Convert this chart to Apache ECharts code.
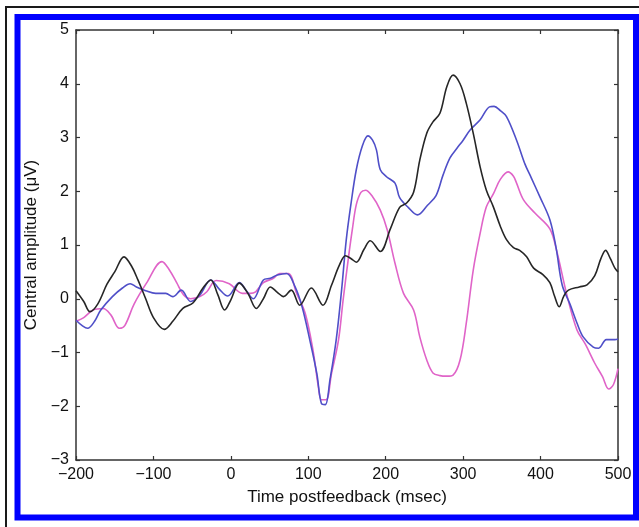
<!DOCTYPE html>
<html>
<head>
<meta charset="utf-8">
<script src="https://cdn.jsdelivr.net/npm/echarts@6/dist/echarts.min.js"></script>
<style>
html,body{margin:0;padding:0;background:#fff;}
#chart{width:639px;height:527px;}
</style>
</head>
<body>
<div id="chart"></div>
<script>
// X axis ticks (msec) and Y ticks (µV)
const xTicks = [-200, -100, 0, 100, 200, 300, 400, 500];
const yTicks = [-3, -2, -1, 0, 1, 2, 3, 4, 5];

// Black trace
const blackT = [-200,-190,-182,-172,-160,-150,-138,-128,-120,-110,-100,-86,-75,-62,-49,-36,-26,-17,-8,0,11,22,33,42,51,60,68,78,89,104,119,130,140,148,155,162,172,180,193,206,218,227,236,244,253,261,270,279,287,296,304,313,322,330,339,348,356,365,373,382,391,403,412,418,424,430,436,450,460,470,478,484,490,496,500];
const blackV = [0.15,-0.05,-0.24,-0.1,0.27,0.5,0.78,0.6,0.35,0.0,-0.35,-0.57,-0.42,-0.18,-0.08,0.2,0.35,0.08,-0.21,-0.02,0.29,0.1,-0.18,0.0,0.22,0.12,0.04,0.16,-0.12,0.2,-0.12,0.25,0.62,0.8,0.75,0.68,0.92,1.08,0.88,1.3,1.7,1.78,1.98,2.58,3.08,3.29,3.45,3.95,4.16,4.0,3.64,3.08,2.45,2.02,1.71,1.35,1.1,0.95,0.9,0.78,0.57,0.45,0.3,0.05,-0.15,0.05,0.16,0.22,0.26,0.43,0.75,0.9,0.75,0.57,0.5];

// Blue trace
const blueT = [-200,-192,-185,-176,-168,-153,-140,-130,-122,-110,-97,-84,-75,-64,-52,-40,-26,-15,-4,11,20,29,42,51,60,72,83,92,102,111,117,122,128,136,143,149,155,162,170,177,183,188,193,201,212,218,229,241,254,265,274,283,292,300,309,322,334,340,348,356,369,380,388,399,412,420,428,438,447,455,468,475,485,496,500];
const blueV = [-0.4,-0.5,-0.55,-0.42,-0.21,0.04,0.2,0.28,0.22,0.15,0.1,0.1,0.04,0.16,-0.05,0.07,0.35,0.18,0.05,0.3,0.15,0.0,0.35,0.38,0.44,0.47,0.22,-0.15,-0.77,-1.39,-1.95,-1.97,-1.51,-0.77,0.16,1.09,1.75,2.4,2.85,3.03,2.95,2.77,2.4,2.27,2.15,1.88,1.7,1.56,1.74,1.92,2.3,2.62,2.8,2.95,3.14,3.33,3.57,3.58,3.5,3.39,2.95,2.5,2.25,1.9,1.47,0.95,0.25,-0.1,-0.45,-0.71,-0.9,-0.92,-0.76,-0.76,-0.75];

// Magenta trace
const magentaT = [-200,-190,-178,-165,-155,-144,-137,-125,-109,-89,-80,-70,-61,-52,-40,-31,-19,-2,15,25,32,42,55,63,74,85,96,106,113,117,123,130,139,145,152,157,162,168,174,182,193,202,212,223,236,244,253,261,270,279,287,296,304,313,322,330,339,348,358,365,369,378,393,412,421,434,447,458,470,480,488,494,500];
const magentaV = [-0.42,-0.35,-0.21,-0.18,-0.3,-0.55,-0.5,-0.1,0.29,0.69,0.55,0.3,0.07,0.0,0.04,0.13,0.34,0.28,0.1,0.1,0.13,0.3,0.38,0.47,0.47,0.1,-0.27,-0.95,-1.64,-1.88,-1.88,-1.39,-0.77,-0.02,0.78,1.3,1.75,1.98,2.02,1.92,1.65,1.28,0.66,0.1,-0.21,-0.71,-1.14,-1.38,-1.43,-1.44,-1.42,-1.14,-0.46,0.53,1.22,1.71,1.95,2.22,2.36,2.28,2.15,1.84,1.59,1.3,0.88,0.07,-0.58,-0.85,-1.2,-1.45,-1.68,-1.6,-1.3];

const zip = (t, v) => t.map((x, i) => [x, v[i]]);
const FONT = '"Liberation Sans", Arial, Helvetica, sans-serif';

const chart = echarts.init(document.getElementById('chart'), null, {renderer: 'canvas'});
const axisLineStyle = {color: '#333', width: 1.5};
const tickStyle = {show: true, inside: true, length: 4, lineStyle: {color: '#333', width: 1.2}};

const option = {
  backgroundColor: '#fff',
  animation: false,
  grid: {left: 76, top: 30, right: 21, bottom: 67, containLabel: false},
  xAxis: [
    {
      type: 'value', min: xTicks[0], max: xTicks[xTicks.length - 1], interval: 100,
      position: 'bottom',
      name: 'Time postfeedback (msec)', nameLocation: 'middle', nameGap: 29,
      nameTextStyle: {fontFamily: FONT, fontSize: 17, color: '#111'},
      axisLine: {show: true, onZero: false, lineStyle: axisLineStyle},
      axisTick: tickStyle,
      axisLabel: {fontFamily: FONT, fontSize: 16, color: '#111', margin: 7,
        formatter: v => (v < 0 ? '\u2212' + Math.abs(v) : String(v))},
      splitLine: {show: false}
    },
    {
      type: 'value', min: xTicks[0], max: xTicks[xTicks.length - 1], interval: 100,
      position: 'top',
      axisLine: {show: true, onZero: false, lineStyle: axisLineStyle},
      axisTick: tickStyle, axisLabel: {show: false}, splitLine: {show: false}
    }
  ],
  yAxis: [
    {
      type: 'value', min: yTicks[0], max: yTicks[yTicks.length - 1], interval: 1,
      position: 'left',
      name: 'Central amplitude (\u03bcV)', nameLocation: 'middle', nameGap: 36,
      nameTextStyle: {fontFamily: FONT, fontSize: 17, color: '#111'},
      axisLine: {show: true, onZero: false, lineStyle: axisLineStyle},
      axisTick: tickStyle,
      axisLabel: {fontFamily: FONT, fontSize: 16, color: '#111', margin: 7,
        formatter: v => (v < 0 ? '\u2212' + Math.abs(v) : String(v))},
      splitLine: {show: false}
    },
    {
      type: 'value', min: yTicks[0], max: yTicks[yTicks.length - 1], interval: 1,
      position: 'right',
      axisLine: {show: true, onZero: false, lineStyle: axisLineStyle},
      axisTick: tickStyle, axisLabel: {show: false}, splitLine: {show: false}
    }
  ],
  series: [
    {type: 'line', name: 'magenta', data: zip(magentaT, magentaV), xAxisIndex: 0, yAxisIndex: 0,
      showSymbol: false, smooth: 0.35, lineStyle: {color: '#e064c8', width: 1.6}},
    {type: 'line', name: 'blue', data: zip(blueT, blueV), xAxisIndex: 0, yAxisIndex: 0,
      showSymbol: false, smooth: 0.35, lineStyle: {color: '#4f4fc8', width: 1.6}},
    {type: 'line', name: 'black', data: zip(blackT, blackV), xAxisIndex: 0, yAxisIndex: 0,
      showSymbol: false, smooth: 0.35, lineStyle: {color: '#262626', width: 1.6}}
  ],
  graphic: [
    {type: 'rect', shape: {x: 17.5, y: 17, width: 618.5, height: 500.5},
      style: {fill: 'none', stroke: '#0000ff', lineWidth: 6}, silent: true, z: 100},
    {type: 'line', shape: {x1: 5, y1: 7, x2: 639, y2: 7},
      style: {stroke: '#1a1a1a', lineWidth: 2}, silent: true, z: 100},
    {type: 'line', shape: {x1: 6, y1: 6, x2: 6, y2: 527},
      style: {stroke: '#1a1a1a', lineWidth: 2}, silent: true, z: 100}
  ]
};
chart.setOption(option);
</script>
</body>
</html>
